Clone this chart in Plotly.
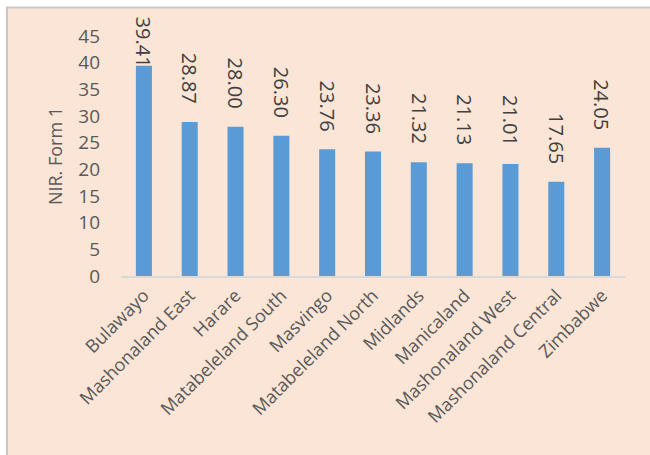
import plotly.graph_objects as go

categories = ["Bulawayo", "Mashonaland East", "Harare", "Matabeleland South", "Masvingo",
              "Matabeleland North", "Midlands", "Manicaland", "Mashonaland West",
              "Mashonaland Central", "Zimbabwe"]
values = [39.41, 28.87, 28.00, 26.30, 23.76, 23.36, 21.32, 21.13, 21.01, 17.65, 24.05]
y_title = "NIR. Form 1"
y_ticks = [0, 5, 10, 15, 20, 25, 30, 35, 40, 45]

FONT = "Open Sans"
GREY = "#595959"
BAR = "#5B9BD5"
PEACH = "#FBE5D6"

L, R, T, B = 121, 25, 36, 179
W, H = 650 - L - R, 455 - T - B
YMAX = 45

fig = go.Figure()
fig.add_trace(go.Bar(x=categories, y=values, marker=dict(color=BAR, line=dict(width=0)),
                     hoverinfo="skip"))

# data labels, rotated, placed a fixed gap above the bar, clamped at the top of the chart
label_len_px = 52
gap_px = 16
top_limit_px = T - 21  # highest allowed label top, in pixels from figure top
for c, v in zip(categories, values):
    bar_top_px = T + H * (1 - v / YMAX)
    label_top_px = bar_top_px - gap_px - label_len_px
    if label_top_px >= top_limit_px:
        fig.add_annotation(x=c, y=v, xref="x", yref="y", text=f"{v:.2f}", textangle=90,
                           showarrow=False, yanchor="bottom", yshift=gap_px,
                           font=dict(family=FONT, size=20, color="#404040"))
    else:
        fig.add_annotation(x=c, y=(T + H - top_limit_px) / H, xref="x", yref="paper",
                           text=f"{v:.2f}", textangle=90, showarrow=False, yanchor="top",
                           font=dict(family=FONT, size=20, color="#404040"))

# chart area background with light border
fig.add_shape(type="rect", xref="paper", yref="paper", layer="below",
              x0=(7 - L) / W, x1=(660 - L) / W, y0=(T + H - 465) / H, y1=(T + H - 7.5) / H,
              fillcolor=PEACH, line=dict(color="#C8C8C8", width=2))

fig.update_layout(
    width=650, height=455,
    margin=dict(l=L, r=R, t=T, b=B, pad=0, autoexpand=False),
    paper_bgcolor="white", plot_bgcolor="rgba(0,0,0,0)",
    bargap=0.65, showlegend=False,
    font=dict(family=FONT, color=GREY),
    xaxis=dict(showgrid=False, showline=True, linecolor="#D9D9D9", linewidth=2,
               ticks="", tickangle=-45, tickfont=dict(family=FONT, size=18, color=GREY),
               automargin=False, fixedrange=True),
    yaxis=dict(range=[0, YMAX], tickvals=y_ticks, showgrid=False, showline=False,
               zeroline=False, ticks="", tickfont=dict(family=FONT, size=19, color=GREY),
               ticklabelstandoff=20, automargin=False,
               title=dict(text=y_title, font=dict(family=FONT, size=18, color=GREY), standoff=10),
               fixedrange=True),
)

fig.write_html("out.html", config={"displayModeBar": False},
               post_script="document.body.style.margin='0';")
